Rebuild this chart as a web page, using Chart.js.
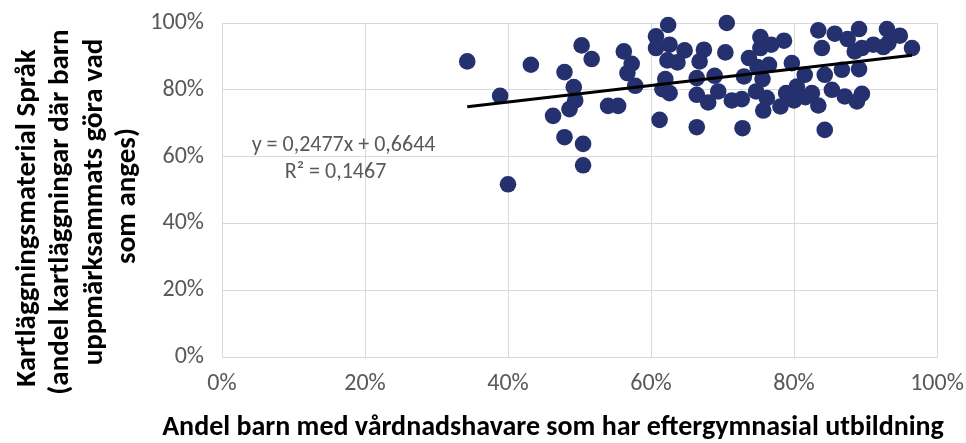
<!DOCTYPE html>
<html lang="sv">
  <head>
    <meta charset="UTF-8" />
    <title>Kartläggningsmaterial Språk</title>
    <style>
      body { margin: 0; background: #fff; }
      #wrap { width: 966px; height: 443px; position: relative; }
    </style>
  </head>
  <body>
    <div id="wrap"><canvas id="scatter"></canvas></div>

    <script src="https://cdn.jsdelivr.net/npm/chart.js@4"></script>
    <script>
      // andel barn med vårdnadshavare med eftergymnasial utbildning (x)
      const xValues = [
        0.343, 0.389, 0.400, 0.432, 0.479, 0.492, 0.494, 0.486, 0.463, 0.479,
        0.505, 0.505, 0.503, 0.517, 0.540, 0.554, 0.562, 0.573, 0.567, 0.578,
        0.607, 0.607, 0.624, 0.626, 0.647, 0.623, 0.637, 0.620, 0.616, 0.626,
        0.612, 0.674, 0.668, 0.664, 0.689, 0.664, 0.680, 0.694, 0.664, 0.706,
        0.704, 0.713, 0.727, 0.728, 0.753, 0.753, 0.768, 0.737, 0.749, 0.765,
        0.730, 0.756, 0.747, 0.762, 0.757, 0.786, 0.797, 0.815, 0.804, 0.789,
        0.781, 0.800, 0.816, 0.825, 0.834, 0.843, 0.834, 0.839, 0.857, 0.875,
        0.891, 0.895, 0.885, 0.911, 0.925, 0.930, 0.948, 0.932, 0.965, 0.843,
        0.867, 0.891, 0.853, 0.871, 0.895, 0.888
      ];
      // andel kartläggningar där barn uppmärksammats (y)
      const yValues = [
        0.885, 0.782, 0.517, 0.875, 0.853, 0.808, 0.768, 0.742, 0.722, 0.658,
        0.638, 0.574, 0.933, 0.892, 0.752, 0.752, 0.915, 0.878, 0.850, 0.812,
        0.960, 0.925, 0.994, 0.935, 0.918, 0.888, 0.882, 0.832, 0.802, 0.790,
        0.710, 0.920, 0.885, 0.835, 0.842, 0.785, 0.762, 0.795, 0.688, 1.000,
        0.912, 0.768, 0.772, 0.685, 0.958, 0.925, 0.935, 0.895, 0.868, 0.875,
        0.840, 0.832, 0.795, 0.775, 0.738, 0.947, 0.880, 0.845, 0.810, 0.790,
        0.750, 0.768, 0.778, 0.790, 0.753, 0.680, 0.978, 0.925, 0.968, 0.952,
        0.982, 0.925, 0.915, 0.935, 0.928, 0.982, 0.962, 0.940, 0.925, 0.845,
        0.860, 0.862, 0.800, 0.780, 0.788, 0.765
      ];

      // linjär trendlinje, y = 0,2477x + 0,6644
      const trendSlope = 0.2477;
      const trendIntercept = 0.6644;
      const trendRange = [0.343, 0.965];
      const trendLabels = ["y = 0,2477x + 0,6644", "R² = 0,1467"];

      const tickValues = [0, 0.2, 0.4, 0.6, 0.8, 1];
      const xTitle = "Andel barn med vårdnadshavare som har eftergymnasial utbildning";
      const yTitle = [
        "Kartläggningsmaterial Språk",
        "(andel kartläggningar där barn",
        "uppmärksammats göra vad",
        "som anges)"
      ];

      const FONT = "Carlito, Lato, sans-serif";
      const GRID = "#d9d9d9";
      const TEXT = "#595959";

      const points = xValues.map((x, i) => ({ x: x, y: yValues[i] }));
      const trend = trendRange.map((x) => ({ x: x, y: trendSlope * x + trendIntercept }));

      // axeltitlar och ekvation ritas här
      const textPlugin = {
        id: "texts",
        afterDraw(chart) {
          const ctx = chart.ctx;
          const xs = chart.scales.x;
          const ys = chart.scales.y;
          ctx.save();
          ctx.textAlign = "center";
          ctx.textBaseline = "middle";

          // ekvation + R²
          ctx.fillStyle = TEXT;
          ctx.font = "22px " + FONT;
          const ex = xs.getPixelForValue(0.170);
          ctx.fillText(trendLabels[0], ex, ys.getPixelForValue(0.633));
          ctx.fillText(trendLabels[1], ex - 8, ys.getPixelForValue(0.553));

          // x-titel
          ctx.fillStyle = "#000";
          ctx.font = "bold 28px " + FONT;
          ctx.fillText(xTitle, 553, 428);

          // y-titel, roterad
          ctx.font = "bold 29px " + FONT;
          const cols = [28, 61, 95, 128];
          const mids = [218, 212, 202, 196];
          yTitle.forEach((line, i) => {
            ctx.save();
            ctx.translate(cols[i], mids[i]);
            ctx.rotate(-Math.PI / 2);
            ctx.fillText(line, 0, 0);
            ctx.restore();
          });
          ctx.restore();
        }
      };

      const ctx = document.getElementById("scatter").getContext("2d");
      new Chart(ctx, {
        type: "scatter",
        data: {
          datasets: [
            {
              type: "line",
              label: "Trend",
              data: trend,
              borderColor: "#000",
              borderWidth: 3,
              pointRadius: 0,
              fill: false,
              order: 0
            },
            {
              label: "Kommuner",
              data: points,
              backgroundColor: "#25306f",
              borderColor: "#25306f",
              borderWidth: 0,
              pointRadius: 8.3,
              clip: false,
              order: 1
            }
          ]
        },
        options: {
          responsive: true,
          maintainAspectRatio: false,
          animation: false,
          layout: { padding: { top: 23, right: 29, left: 0, bottom: 0 } },
          plugins: {
            legend: { display: false },
            tooltip: { enabled: false }
          },
          scales: {
            x: {
              type: "linear",
              min: 0,
              max: 1,
              afterBuildTicks(scale) {
                scale.ticks = tickValues.map((v) => ({ value: v }));
              },
              afterFit(scale) {
                scale.height = 86;
                scale.paddingLeft = 0;
                scale.paddingRight = 0;
              },
              grid: { color: GRID, lineWidth: 1, drawTicks: false },
              border: { color: GRID },
              ticks: {
                padding: 13,
                color: TEXT,
                font: { family: FONT, size: 24 },
                maxRotation: 0,
                callback: (v) => Math.round(v * 100) + "%"
              }
            },
            y: {
              type: "linear",
              min: 0,
              max: 1,
              afterBuildTicks(scale) {
                scale.ticks = tickValues.map((v) => ({ value: v }));
              },
              afterFit(scale) {
                scale.width = 222;
                scale.paddingTop = 0;
                scale.paddingBottom = 0;
              },
              grid: { color: GRID, lineWidth: 1, drawTicks: false },
              border: { color: GRID },
              ticks: {
                padding: 18,
                color: TEXT,
                font: { family: FONT, size: 24 },
                callback: (v) => Math.round(v * 100) + "%"
              }
            }
          }
        },
        plugins: [textPlugin]
      });
    </script>
  </body>
</html>
